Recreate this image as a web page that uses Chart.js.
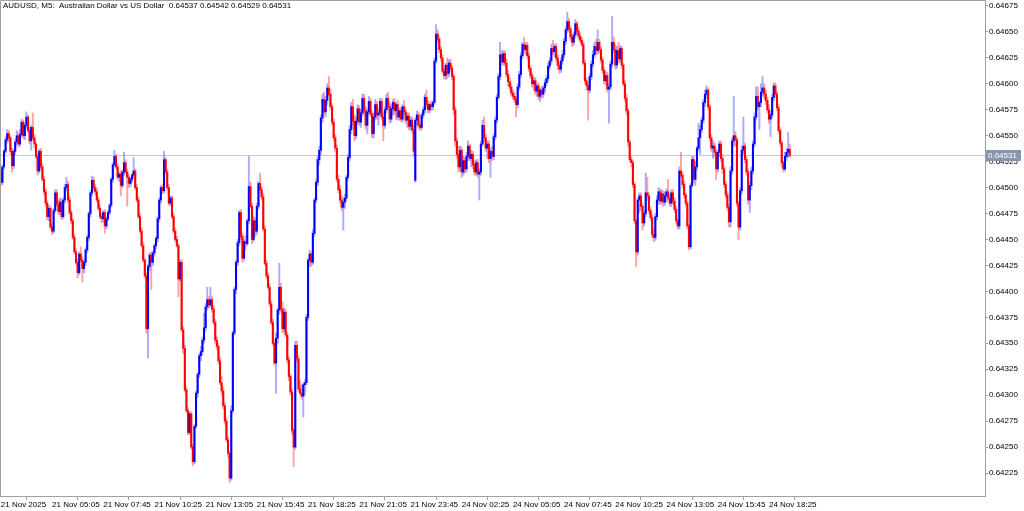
<!DOCTYPE html>
<html><head><meta charset="utf-8">
<script src="https://cdn.jsdelivr.net/npm/chart.js@4.4.1/dist/chart.umd.min.js"></script>
<style>html,body{margin:0;padding:0;background:#fff;overflow:hidden}#wrap{width:1024px;height:511px;position:relative}canvas{display:block}</style>
</head><body><div id="wrap"><canvas id="c" width="1024" height="511" style="width:1024px;height:511px"></canvas></div>
<script>
const symbolTitle = 'AUDUSD, M5:  Australian Dollar vs US Dollar  0.64537 0.64542 0.64529 0.64531';
const lastPrice = 0.64531;
const xTickBars = [0,32,64,96,128,160,192,224,256,288,320,352,384,416,448,480];
const xTickLabels = ['21 Nov 2025','21 Nov 05:05','21 Nov 07:45','21 Nov 10:25','21 Nov 13:05','21 Nov 15:45','21 Nov 18:25','21 Nov 21:05','21 Nov 23:45','24 Nov 02:25','24 Nov 05:05','24 Nov 07:45','24 Nov 10:25','24 Nov 13:05','24 Nov 15:45','24 Nov 18:25'];
const yTickValues = [0.64225,0.64250,0.64275,0.64300,0.64325,0.64350,0.64375,0.64400,0.64425,0.64450,0.64475,0.64500,0.64525,0.64550,0.64575,0.64600,0.64625,0.64650,0.64675];

const opens = [
0.64515,0.64505,0.64520,0.64535,0.64546,0.64552,0.64548,0.64535,0.64521,0.64535,
0.64544,0.64550,0.64542,0.64551,0.64563,0.64550,0.64560,0.64568,0.64555,0.64545,
0.64558,0.64548,0.64542,0.64530,0.64516,0.64535,0.64520,0.64508,0.64496,0.64485,
0.64472,0.64480,0.64462,0.64458,0.64478,0.64495,0.64484,0.64477,0.64486,0.64472,
0.64488,0.64500,0.64503,0.64488,0.64476,0.64468,0.64452,0.64438,0.64428,0.64418,
0.64436,0.64430,0.64422,0.64428,0.64440,0.64452,0.64475,0.64495,0.64507,0.64500,
0.64496,0.64488,0.64480,0.64472,0.64470,0.64476,0.64463,0.64470,0.64476,0.64483,
0.64508,0.64522,0.64530,0.64520,0.64510,0.64513,0.64502,0.64515,0.64524,0.64515,
0.64510,0.64504,0.64508,0.64512,0.64516,0.64500,0.64488,0.64472,0.64458,0.64444,
0.64430,0.64415,0.64364,0.64424,0.64435,0.64428,0.64437,0.64444,0.64451,0.64470,
0.64488,0.64500,0.64497,0.64527,0.64515,0.64500,0.64485,0.64490,0.64472,0.64458,
0.64450,0.64444,0.64412,0.64428,0.64363,0.64345,0.64305,0.64285,0.64264,0.64282,
0.64250,0.64236,0.64270,0.64302,0.64320,0.64338,0.64342,0.64353,0.64365,0.64385,
0.64392,0.64387,0.64392,0.64383,0.64370,0.64353,0.64347,0.64333,0.64312,0.64304,
0.64290,0.64275,0.64257,0.64244,0.64220,0.64285,0.64360,0.64402,0.64428,0.64447,
0.64476,0.64453,0.64432,0.64448,0.64446,0.64468,0.64501,0.64482,0.64450,0.64468,
0.64458,0.64482,0.64504,0.64498,0.64491,0.64460,0.64427,0.64415,0.64404,0.64388,
0.64370,0.64350,0.64331,0.64355,0.64382,0.64404,0.64383,0.64364,0.64380,0.64358,
0.64334,0.64318,0.64303,0.64266,0.64250,0.64348,0.64335,0.64306,0.64302,0.64299,
0.64310,0.64312,0.64375,0.64430,0.64436,0.64428,0.64456,0.64488,0.64505,0.64527,
0.64536,0.64567,0.64585,0.64573,0.64584,0.64596,0.64590,0.64578,0.64563,0.64548,
0.64538,0.64508,0.64498,0.64488,0.64481,0.64486,0.64490,0.64510,0.64529,0.64556,
0.64578,0.64564,0.64550,0.64564,0.64576,0.64563,0.64572,0.64586,0.64574,0.64560,
0.64573,0.64583,0.64571,0.64552,0.64568,0.64580,0.64570,0.64572,0.64583,0.64568,
0.64560,0.64575,0.64586,0.64578,0.64566,0.64576,0.64582,0.64574,0.64580,0.64568,
0.64574,0.64566,0.64578,0.64573,0.64565,0.64569,0.64559,0.64565,0.64556,0.64507,
0.64565,0.64570,0.64560,0.64558,0.64570,0.64575,0.64587,0.64580,0.64575,0.64580,
0.64578,0.64582,0.64622,0.64648,0.64643,0.64633,0.64625,0.64612,0.64608,0.64618,
0.64610,0.64620,0.64615,0.64607,0.64575,0.64545,0.64532,0.64520,0.64536,0.64515,
0.64526,0.64518,0.64530,0.64540,0.64528,0.64532,0.64522,0.64515,0.64524,0.64513,
0.64515,0.64542,0.64560,0.64548,0.64538,0.64542,0.64528,0.64535,0.64530,0.64549,
0.64565,0.64587,0.64607,0.64628,0.64621,0.64629,0.64620,0.64609,0.64602,0.64597,
0.64591,0.64588,0.64585,0.64580,0.64597,0.64609,0.64627,0.64638,0.64633,0.64637,
0.64627,0.64615,0.64608,0.64600,0.64603,0.64593,0.64598,0.64588,0.64594,0.64590,
0.64596,0.64601,0.64605,0.64617,0.64622,0.64634,0.64631,0.64636,0.64625,0.64618,
0.64614,0.64622,0.64628,0.64641,0.64652,0.64660,0.64653,0.64645,0.64640,0.64647,
0.64658,0.64651,0.64646,0.64642,0.64638,0.64620,0.64603,0.64598,0.64594,0.64607,
0.64619,0.64628,0.64636,0.64632,0.64640,0.64633,0.64623,0.64613,0.64603,0.64608,
0.64595,0.64597,0.64619,0.64640,0.64633,0.64618,0.64632,0.64624,0.64634,0.64618,
0.64600,0.64586,0.64574,0.64544,0.64527,0.64524,0.64503,0.64468,0.64438,0.64488,
0.64492,0.64482,0.64466,0.64475,0.64495,0.64492,0.64478,0.64471,0.64455,0.64452,
0.64472,0.64488,0.64496,0.64487,0.64494,0.64486,0.64492,0.64496,0.64490,0.64485,
0.64495,0.64487,0.64479,0.64468,0.64463,0.64516,0.64512,0.64503,0.64493,0.64485,
0.64463,0.64443,0.64502,0.64527,0.64508,0.64520,0.64538,0.64548,0.64556,0.64565,
0.64582,0.64590,0.64594,0.64578,0.64548,0.64538,0.64540,0.64534,0.64518,0.64534,
0.64542,0.64528,0.64518,0.64503,0.64493,0.64481,0.64467,0.64516,0.64545,0.64550,
0.64546,0.64485,0.64462,0.64497,0.64536,0.64540,0.64527,0.64515,0.64488,0.64502,
0.64516,0.64542,0.64568,0.64588,0.64578,0.64582,0.64592,0.64596,0.64590,0.64584,
0.64575,0.64566,0.64570,0.64587,0.64598,0.64590,0.64577,0.64555,0.64543,0.64524,
0.64518,0.64530,0.64534,0.64537];

const highs = [
0.64519,0.64522,0.64537,0.64549,0.64556,0.64555,0.64550,0.64538,0.64537,0.64547,
0.64555,0.64553,0.64556,0.64566,0.64565,0.64562,0.64573,0.64570,0.64558,0.64560,
0.64572,0.64551,0.64544,0.64533,0.64537,0.64538,0.64523,0.64511,0.64499,0.64488,
0.64483,0.64482,0.64465,0.64480,0.64498,0.64498,0.64488,0.64490,0.64489,0.64490,
0.64503,0.64510,0.64506,0.64491,0.64479,0.64470,0.64455,0.64441,0.64431,0.64438,
0.64443,0.64433,0.64430,0.64442,0.64454,0.64477,0.64497,0.64511,0.64510,0.64503,
0.64499,0.64491,0.64483,0.64475,0.64478,0.64479,0.64472,0.64478,0.64485,0.64510,
0.64524,0.64536,0.64532,0.64523,0.64515,0.64516,0.64517,0.64534,0.64527,0.64518,
0.64513,0.64510,0.64514,0.64529,0.64518,0.64503,0.64491,0.64475,0.64461,0.64447,
0.64432,0.64418,0.64426,0.64437,0.64438,0.64439,0.64446,0.64453,0.64472,0.64490,
0.64502,0.64503,0.64535,0.64529,0.64518,0.64503,0.64492,0.64492,0.64475,0.64461,
0.64453,0.64446,0.64430,0.64431,0.64366,0.64348,0.64308,0.64288,0.64284,0.64284,
0.64253,0.64272,0.64304,0.64322,0.64340,0.64347,0.64356,0.64379,0.64388,0.64404,
0.64395,0.64404,0.64395,0.64386,0.64373,0.64356,0.64350,0.64336,0.64318,0.64308,
0.64293,0.64278,0.64260,0.64246,0.64290,0.64362,0.64404,0.64430,0.64450,0.64478,
0.64479,0.64456,0.64450,0.64454,0.64470,0.64530,0.64505,0.64485,0.64472,0.64471,
0.64485,0.64506,0.64514,0.64501,0.64494,0.64463,0.64430,0.64418,0.64407,0.64391,
0.64373,0.64353,0.64360,0.64384,0.64427,0.64408,0.64390,0.64384,0.64383,0.64361,
0.64337,0.64320,0.64306,0.64268,0.64352,0.64352,0.64338,0.64314,0.64310,0.64312,
0.64315,0.64378,0.64432,0.64440,0.64438,0.64460,0.64490,0.64508,0.64530,0.64540,
0.64570,0.64590,0.64592,0.64588,0.64600,0.64607,0.64595,0.64581,0.64566,0.64551,
0.64541,0.64512,0.64502,0.64492,0.64490,0.64494,0.64512,0.64532,0.64560,0.64582,
0.64585,0.64570,0.64568,0.64580,0.64579,0.64575,0.64590,0.64590,0.64578,0.64576,
0.64588,0.64586,0.64574,0.64572,0.64585,0.64583,0.64576,0.64586,0.64586,0.64572,
0.64578,0.64590,0.64592,0.64582,0.64580,0.64585,0.64586,0.64582,0.64584,0.64576,
0.64577,0.64580,0.64584,0.64576,0.64572,0.64572,0.64568,0.64568,0.64560,0.64567,
0.64574,0.64573,0.64563,0.64572,0.64578,0.64590,0.64594,0.64584,0.64582,0.64583,
0.64584,0.64625,0.64657,0.64652,0.64646,0.64636,0.64628,0.64615,0.64620,0.64625,
0.64623,0.64624,0.64618,0.64609,0.64578,0.64548,0.64540,0.64540,0.64539,0.64530,
0.64529,0.64534,0.64545,0.64542,0.64536,0.64535,0.64526,0.64527,0.64527,0.64518,
0.64545,0.64565,0.64568,0.64551,0.64545,0.64545,0.64538,0.64540,0.64552,0.64568,
0.64590,0.64610,0.64640,0.64632,0.64632,0.64632,0.64624,0.64613,0.64606,0.64600,
0.64594,0.64592,0.64588,0.64600,0.64612,0.64630,0.64640,0.64645,0.64640,0.64640,
0.64630,0.64618,0.64611,0.64606,0.64606,0.64600,0.64601,0.64596,0.64598,0.64598,
0.64604,0.64608,0.64620,0.64625,0.64638,0.64642,0.64638,0.64639,0.64628,0.64621,
0.64625,0.64632,0.64644,0.64655,0.64669,0.64663,0.64656,0.64648,0.64650,0.64662,
0.64660,0.64654,0.64649,0.64645,0.64641,0.64623,0.64606,0.64601,0.64610,0.64622,
0.64632,0.64640,0.64643,0.64652,0.64643,0.64636,0.64626,0.64616,0.64612,0.64611,
0.64600,0.64622,0.64665,0.64645,0.64638,0.64636,0.64640,0.64637,0.64636,0.64620,
0.64603,0.64590,0.64576,0.64546,0.64530,0.64526,0.64505,0.64470,0.64490,0.64495,
0.64495,0.64485,0.64478,0.64514,0.64510,0.64495,0.64481,0.64474,0.64460,0.64475,
0.64492,0.64500,0.64499,0.64498,0.64497,0.64496,0.64499,0.64508,0.64493,0.64498,
0.64498,0.64490,0.64482,0.64470,0.64520,0.64534,0.64515,0.64506,0.64495,0.64487,
0.64465,0.64504,0.64530,0.64530,0.64525,0.64540,0.64562,0.64560,0.64568,0.64585,
0.64594,0.64598,0.64596,0.64580,0.64551,0.64545,0.64543,0.64537,0.64536,0.64545,
0.64545,0.64532,0.64521,0.64506,0.64496,0.64484,0.64520,0.64548,0.64588,0.64554,
0.64548,0.64487,0.64500,0.64540,0.64568,0.64543,0.64530,0.64518,0.64505,0.64520,
0.64545,0.64572,0.64597,0.64597,0.64584,0.64600,0.64607,0.64600,0.64594,0.64587,
0.64580,0.64574,0.64590,0.64601,0.64601,0.64593,0.64580,0.64558,0.64545,0.64526,
0.64534,0.64538,0.64553,0.64542];

const lows = [
0.64502,0.64503,0.64518,0.64533,0.64543,0.64544,0.64532,0.64515,0.64518,0.64532,
0.64541,0.64539,0.64540,0.64549,0.64547,0.64546,0.64557,0.64553,0.64542,0.64536,
0.64546,0.64538,0.64528,0.64512,0.64514,0.64518,0.64506,0.64493,0.64482,0.64469,
0.64468,0.64460,0.64455,0.64456,0.64476,0.64482,0.64474,0.64474,0.64469,0.64470,
0.64485,0.64497,0.64486,0.64474,0.64465,0.64450,0.64436,0.64426,0.64413,0.64416,
0.64428,0.64409,0.64418,0.64425,0.64437,0.64449,0.64472,0.64492,0.64497,0.64493,
0.64486,0.64478,0.64470,0.64466,0.64467,0.64456,0.64460,0.64468,0.64474,0.64481,
0.64505,0.64520,0.64518,0.64508,0.64506,0.64492,0.64500,0.64512,0.64513,0.64482,
0.64500,0.64501,0.64505,0.64509,0.64498,0.64486,0.64470,0.64456,0.64442,0.64428,
0.64413,0.64360,0.64336,0.64420,0.64402,0.64425,0.64434,0.64441,0.64448,0.64467,
0.64485,0.64494,0.64495,0.64513,0.64498,0.64483,0.64482,0.64470,0.64456,0.64448,
0.64442,0.64395,0.64410,0.64361,0.64340,0.64303,0.64283,0.64262,0.64262,0.64248,
0.64232,0.64234,0.64268,0.64298,0.64317,0.64333,0.64339,0.64350,0.64362,0.64382,
0.64384,0.64385,0.64380,0.64368,0.64350,0.64344,0.64330,0.64310,0.64300,0.64287,
0.64272,0.64255,0.64240,0.64216,0.64218,0.64283,0.64358,0.64398,0.64425,0.64444,
0.64450,0.64428,0.64430,0.64440,0.64444,0.64465,0.64480,0.64446,0.64448,0.64453,
0.64455,0.64479,0.64495,0.64488,0.64458,0.64425,0.64412,0.64402,0.64385,0.64368,
0.64348,0.64329,0.64302,0.64350,0.64378,0.64380,0.64360,0.64361,0.64356,0.64331,
0.64314,0.64300,0.64262,0.64231,0.64248,0.64332,0.64303,0.64300,0.64296,0.64279,
0.64300,0.64310,0.64372,0.64424,0.64424,0.64426,0.64453,0.64485,0.64502,0.64522,
0.64532,0.64563,0.64570,0.64568,0.64580,0.64588,0.64575,0.64560,0.64545,0.64535,
0.64505,0.64495,0.64485,0.64478,0.64459,0.64480,0.64487,0.64507,0.64526,0.64552,
0.64560,0.64545,0.64547,0.64561,0.64560,0.64558,0.64569,0.64570,0.64556,0.64552,
0.64570,0.64568,0.64548,0.64548,0.64565,0.64566,0.64560,0.64569,0.64565,0.64545,
0.64557,0.64572,0.64575,0.64562,0.64563,0.64570,0.64570,0.64566,0.64565,0.64565,
0.64564,0.64563,0.64570,0.64562,0.64558,0.64556,0.64555,0.64553,0.64530,0.64505,
0.64560,0.64557,0.64555,0.64556,0.64567,0.64572,0.64576,0.64572,0.64572,0.64574,
0.64575,0.64580,0.64620,0.64640,0.64630,0.64622,0.64610,0.64605,0.64604,0.64605,
0.64607,0.64612,0.64604,0.64570,0.64540,0.64528,0.64515,0.64516,0.64510,0.64512,
0.64514,0.64515,0.64526,0.64526,0.64520,0.64518,0.64512,0.64512,0.64510,0.64488,
0.64512,0.64540,0.64545,0.64535,0.64528,0.64524,0.64510,0.64526,0.64527,0.64546,
0.64562,0.64585,0.64604,0.64618,0.64618,0.64617,0.64606,0.64598,0.64594,0.64588,
0.64585,0.64582,0.64568,0.64577,0.64594,0.64606,0.64624,0.64630,0.64628,0.64624,
0.64612,0.64605,0.64597,0.64594,0.64590,0.64588,0.64585,0.64583,0.64586,0.64587,
0.64592,0.64598,0.64602,0.64614,0.64619,0.64628,0.64626,0.64622,0.64614,0.64610,
0.64611,0.64619,0.64625,0.64638,0.64649,0.64650,0.64642,0.64636,0.64637,0.64644,
0.64648,0.64643,0.64640,0.64636,0.64618,0.64600,0.64594,0.64565,0.64591,0.64604,
0.64616,0.64625,0.64628,0.64629,0.64630,0.64620,0.64610,0.64600,0.64599,0.64592,
0.64562,0.64594,0.64616,0.64630,0.64614,0.64615,0.64620,0.64621,0.64615,0.64598,
0.64583,0.64570,0.64540,0.64525,0.64520,0.64500,0.64465,0.64424,0.64435,0.64476,
0.64478,0.64459,0.64463,0.64472,0.64488,0.64475,0.64468,0.64452,0.64448,0.64449,
0.64469,0.64484,0.64484,0.64484,0.64482,0.64483,0.64486,0.64488,0.64482,0.64482,
0.64484,0.64476,0.64465,0.64460,0.64460,0.64510,0.64500,0.64490,0.64482,0.64460,
0.64440,0.64441,0.64500,0.64505,0.64502,0.64517,0.64535,0.64532,0.64553,0.64562,
0.64578,0.64586,0.64575,0.64545,0.64535,0.64528,0.64530,0.64508,0.64515,0.64530,
0.64525,0.64514,0.64500,0.64490,0.64478,0.64462,0.64462,0.64513,0.64540,0.64540,
0.64482,0.64450,0.64459,0.64494,0.64532,0.64524,0.64512,0.64484,0.64476,0.64498,
0.64513,0.64539,0.64565,0.64575,0.64556,0.64578,0.64588,0.64586,0.64580,0.64572,
0.64562,0.64549,0.64567,0.64584,0.64587,0.64574,0.64552,0.64540,0.64520,0.64515,
0.64516,0.64526,0.64529,0.64529];

const closes = [
0.64505,0.64520,0.64535,0.64546,0.64552,0.64548,0.64535,0.64521,0.64535,0.64544,
0.64550,0.64542,0.64551,0.64563,0.64550,0.64560,0.64568,0.64555,0.64545,0.64558,
0.64548,0.64542,0.64530,0.64516,0.64535,0.64520,0.64508,0.64496,0.64485,0.64472,
0.64480,0.64462,0.64458,0.64478,0.64495,0.64484,0.64477,0.64486,0.64472,0.64488,
0.64500,0.64503,0.64488,0.64476,0.64468,0.64452,0.64438,0.64428,0.64418,0.64436,
0.64430,0.64422,0.64428,0.64440,0.64452,0.64475,0.64495,0.64507,0.64500,0.64496,
0.64488,0.64480,0.64472,0.64470,0.64476,0.64463,0.64470,0.64476,0.64483,0.64508,
0.64522,0.64530,0.64520,0.64510,0.64513,0.64502,0.64515,0.64524,0.64515,0.64510,
0.64504,0.64508,0.64512,0.64516,0.64500,0.64488,0.64472,0.64458,0.64444,0.64430,
0.64415,0.64364,0.64424,0.64435,0.64428,0.64437,0.64444,0.64451,0.64470,0.64488,
0.64500,0.64497,0.64527,0.64515,0.64500,0.64485,0.64490,0.64472,0.64458,0.64450,
0.64444,0.64412,0.64428,0.64363,0.64345,0.64305,0.64285,0.64264,0.64282,0.64250,
0.64236,0.64270,0.64302,0.64320,0.64338,0.64342,0.64353,0.64365,0.64385,0.64392,
0.64387,0.64392,0.64383,0.64370,0.64353,0.64347,0.64333,0.64312,0.64304,0.64290,
0.64275,0.64257,0.64244,0.64220,0.64285,0.64360,0.64402,0.64428,0.64447,0.64476,
0.64453,0.64432,0.64448,0.64446,0.64468,0.64501,0.64482,0.64450,0.64468,0.64458,
0.64482,0.64504,0.64498,0.64491,0.64460,0.64427,0.64415,0.64404,0.64388,0.64370,
0.64350,0.64331,0.64355,0.64382,0.64404,0.64383,0.64364,0.64380,0.64358,0.64334,
0.64318,0.64303,0.64266,0.64250,0.64348,0.64335,0.64306,0.64302,0.64299,0.64310,
0.64312,0.64375,0.64430,0.64436,0.64428,0.64456,0.64488,0.64505,0.64527,0.64536,
0.64567,0.64585,0.64573,0.64584,0.64596,0.64590,0.64578,0.64563,0.64548,0.64538,
0.64508,0.64498,0.64488,0.64481,0.64486,0.64490,0.64510,0.64529,0.64556,0.64578,
0.64564,0.64550,0.64564,0.64576,0.64563,0.64572,0.64586,0.64574,0.64560,0.64573,
0.64583,0.64571,0.64552,0.64568,0.64580,0.64570,0.64572,0.64583,0.64568,0.64560,
0.64575,0.64586,0.64578,0.64566,0.64576,0.64582,0.64574,0.64580,0.64568,0.64574,
0.64566,0.64578,0.64573,0.64565,0.64569,0.64559,0.64565,0.64556,0.64535,0.64565,
0.64570,0.64560,0.64558,0.64570,0.64575,0.64587,0.64580,0.64575,0.64580,0.64578,
0.64582,0.64622,0.64648,0.64643,0.64633,0.64625,0.64612,0.64608,0.64618,0.64610,
0.64620,0.64615,0.64607,0.64575,0.64545,0.64532,0.64520,0.64536,0.64515,0.64526,
0.64518,0.64530,0.64540,0.64528,0.64532,0.64522,0.64515,0.64524,0.64513,0.64515,
0.64542,0.64560,0.64548,0.64538,0.64542,0.64528,0.64535,0.64530,0.64549,0.64565,
0.64587,0.64607,0.64628,0.64621,0.64629,0.64620,0.64609,0.64602,0.64597,0.64591,
0.64588,0.64585,0.64580,0.64597,0.64609,0.64627,0.64638,0.64633,0.64637,0.64627,
0.64615,0.64608,0.64600,0.64603,0.64593,0.64598,0.64588,0.64594,0.64590,0.64596,
0.64601,0.64605,0.64617,0.64622,0.64634,0.64631,0.64636,0.64625,0.64618,0.64614,
0.64622,0.64628,0.64641,0.64652,0.64660,0.64653,0.64645,0.64640,0.64647,0.64658,
0.64651,0.64646,0.64642,0.64638,0.64620,0.64603,0.64598,0.64594,0.64607,0.64619,
0.64628,0.64636,0.64632,0.64640,0.64633,0.64623,0.64613,0.64603,0.64608,0.64595,
0.64597,0.64619,0.64640,0.64633,0.64618,0.64632,0.64624,0.64634,0.64618,0.64600,
0.64586,0.64574,0.64544,0.64527,0.64524,0.64503,0.64468,0.64438,0.64488,0.64492,
0.64482,0.64466,0.64475,0.64495,0.64492,0.64478,0.64471,0.64455,0.64452,0.64472,
0.64488,0.64496,0.64487,0.64494,0.64486,0.64492,0.64496,0.64490,0.64485,0.64495,
0.64487,0.64479,0.64468,0.64463,0.64516,0.64512,0.64503,0.64493,0.64485,0.64463,
0.64443,0.64502,0.64527,0.64508,0.64520,0.64538,0.64548,0.64556,0.64565,0.64582,
0.64590,0.64594,0.64578,0.64548,0.64538,0.64540,0.64534,0.64518,0.64534,0.64542,
0.64528,0.64518,0.64503,0.64493,0.64481,0.64467,0.64516,0.64545,0.64550,0.64546,
0.64485,0.64462,0.64497,0.64536,0.64540,0.64527,0.64515,0.64488,0.64502,0.64516,
0.64542,0.64568,0.64588,0.64578,0.64582,0.64592,0.64596,0.64590,0.64584,0.64575,
0.64566,0.64570,0.64587,0.64598,0.64590,0.64577,0.64555,0.64543,0.64524,0.64518,
0.64530,0.64534,0.64537,0.64531];

const FONT_FAMILY = '"Liberation Sans", Arial, sans-serif';
const FONT = {family: FONT_FAMILY, size: 8};
const AXIS_GRAY = '#a0a0a0';
const upBody = '#0000ff', downBody = '#ff0000';
const upWick = 'rgba(70,70,255,0.45)', downWick = 'rgba(255,50,50,0.45)';

const isUp = closes.map((c, i) => c >= opens[i]);
const bodyData = opens.map((o, i) => ({x: i, y: [o, closes[i]]}));
const wickData = highs.map((h, i) => ({x: i, y: [lows[i], h]}));

const overlay = {
  id: 'overlay',
  beforeDatasetsDraw(chart) {
    const {ctx, chartArea: a, scales: {y}} = chart;
    const py = Math.round(y.getPixelForValue(lastPrice)) + 0.5;
    ctx.save();
    ctx.strokeStyle = '#c4c8d0'; ctx.lineWidth = 1;
    ctx.beginPath(); ctx.moveTo(a.left, py); ctx.lineTo(a.right, py); ctx.stroke();
    ctx.restore();
  },
  afterDraw(chart) {
    const {ctx, chartArea: a, scales: {y}} = chart;
    ctx.save();
    ctx.strokeStyle = AXIS_GRAY; ctx.lineWidth = 1;
    ctx.beginPath();
    ctx.moveTo(a.left + 0.5, a.bottom); ctx.lineTo(a.left + 0.5, a.top + 0.5); ctx.lineTo(a.right, a.top + 0.5);
    ctx.stroke();
    const py = Math.round(y.getPixelForValue(lastPrice)) + 0.5;
    ctx.fillStyle = '#8796ae';
    ctx.fillRect(a.right + 1, py - 5.5, 35, 11);
    ctx.fillStyle = '#ffffff';
    ctx.font = '8px ' + FONT_FAMILY;
    ctx.textBaseline = 'middle'; ctx.textAlign = 'left';
    ctx.fillText(lastPrice.toFixed(5), a.right + 3, py);
    ctx.fillStyle = '#000000';
    ctx.fillText(symbolTitle, 3, 6);
    ctx.restore();
  }
};

new Chart(document.getElementById('c'), {
  type: 'bar',
  data: {
    datasets: [
      {label: 'body', data: bodyData, backgroundColor: isUp.map(u => u ? upBody : downBody),
       barThickness: 1.4, minBarLength: 1, order: 0},
      {label: 'wick', data: wickData, backgroundColor: isUp.map(u => u ? upWick : downWick),
       barThickness: 1.3, order: 1}
    ]
  },
  options: {
    responsive: false, animation: false, devicePixelRatio: 1,
    layout: {padding: 0},
    datasets: {bar: {grouped: false}},
    plugins: {legend: {display: false}, tooltip: {enabled: false}, title: {display: false}},
    scales: {
      x: {
        type: 'linear', min: -0.5, max: 615, offset: false,
        grid: {drawOnChartArea: false, drawTicks: true, tickLength: 4, color: AXIS_GRAY},
        border: {display: true, color: AXIS_GRAY},
        afterBuildTicks: s => { s.ticks = xTickBars.map(v => ({value: v})); },
        ticks: {autoSkip: false, maxRotation: 0, minRotation: 0, align: 'start', padding: 0, font: FONT, color: '#000',
          callback: v => { const k = xTickBars.indexOf(v); return k >= 0 ? xTickLabels[k] : ''; }},
        afterFit: s => { s.height = 15; s.paddingLeft = 0; s.paddingRight = 0; }
      },
      y: {
        position: 'right', min: 0.6420284, max: 0.6468078,
        afterBuildTicks: s => { s.ticks = yTickValues.map(v => ({value: v})); },
        grid: {drawOnChartArea: false, drawTicks: true, tickLength: 3, color: AXIS_GRAY},
        border: {display: true, color: AXIS_GRAY},
        ticks: {font: FONT, color: '#000', padding: 1, callback: v => Number(v).toFixed(5)},
        afterFit: s => { s.width = 39; s.paddingTop = 0; s.paddingBottom = 0; }
      }
    }
  },
  plugins: [overlay]
});
</script>
</body></html>
